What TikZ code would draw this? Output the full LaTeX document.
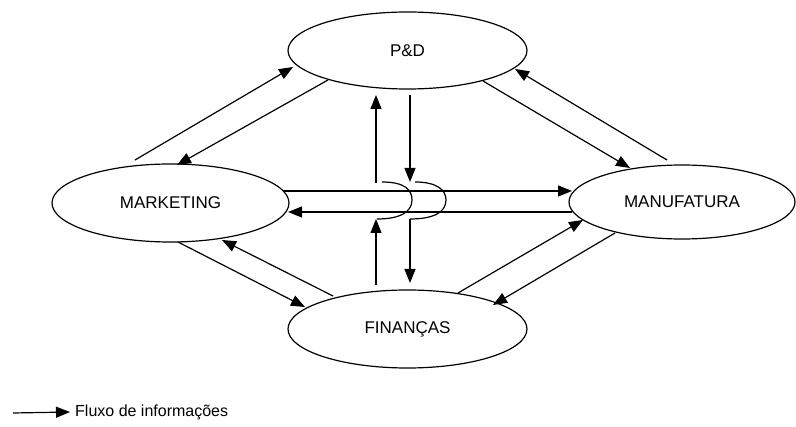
\documentclass[tikz,border=0pt]{standalone}
\usepackage{fontspec}
\setmainfont{Liberation Sans}
\usetikzlibrary{arrows.meta,shapes.geometric,calc}
\begin{document}
\begin{tikzpicture}[x=1pt,y=-1pt,
  dept/.style={draw, line width=1.2pt, ellipse, inner sep=0pt,
    font=\fontsize{17}{20}\selectfont},
  flow/.style={line width=1.2pt, -{Triangle[length=14pt,width=11pt]}},
  bridge/.style={line width=1.2pt}]
\useasboundingbox (0,0) rectangle (796,427);

% departments
\node[dept, minimum width=239pt, minimum height=77pt] (pd)  at (407.5,50.5) {P\&D};
\node[dept, minimum width=237pt, minimum height=78pt] (mkt) at (170.5,203)  {MARKETING};
\node[dept, minimum width=226pt, minimum height=74pt] (man) at (682,202)    {MANUFATURA};
\node[dept, minimum width=239pt, minimum height=78pt] (fin) at (407.5,329)  {FINANÇAS};

% diagonal flows
\draw[flow] ($(mkt.center)+(-35.5,-43)$) -- ($(pd.center)+(-114.5,16.5)$);
\draw[flow] ($(pd.center)+(-79.5,29.5)$) -- ($(mkt.center)+(6.5,-38)$);
\draw[flow] ($(pd.center)+(75.5,30.5)$)  -- ($(man.center)+(-52,-34)$);
\draw[flow] ($(man.center)+(-15,-42)$)   -- ($(pd.center)+(107.5,18.5)$);
\draw[flow] ($(mkt.center)+(7.5,39)$)    -- ($(fin.center)+(-102.5,-22)$);
\draw[flow] ($(fin.center)+(-74.5,-33)$) -- ($(mkt.center)+(51.5,37)$);
\draw[flow] ($(fin.center)+(50.5,-36)$)  -- ($(man.center)+(-99,18)$);
\draw[flow] ($(man.center)+(-67,31)$)    -- ($(fin.center)+(85.5,-24)$);

% horizontal flows
\draw[flow] ($(mkt.center)+(112.3,-12)$) -- ($(man.center)+(-110,-11)$);
\draw[flow] ($(man.center)+(-110,10)$)   -- ($(mkt.center)+(117.5,9)$);

% vertical flows with bridges over the horizontal lines
\coordinate (lb) at ($(fin.center)+(-31.5,-110)$);   % left bridge, lower end
\coordinate (lt) at ($(pd.center)+(-31.5,132.5)$);   % left bridge, upper end
\coordinate (rt) at ($(pd.center)+(2.5,131.5)$);     % right bridge, upper end
\coordinate (rb) at ($(fin.center)+(2.5,-110)$);     % right bridge, lower end

\draw[flow] ($(fin.center)+(-31.5,-44)$) -- (lb);
\draw[bridge] ($(lb)+(1,0)$) .. controls ($(lb)+(24,0)$) and ($(lb)+(36,-7)$)
  .. ($(lb)+(36,-19)$) .. controls ($(lb)+(36,-29)$) and ($(lb)+(29,-37)$) .. ($(lt)+(6,-1)$);
\draw[flow] (lt) -- ($(pd.center)+(-31.5,44.5)$);

\draw[flow] ($(pd.center)+(2.5,44.5)$) -- (rt);
\draw[bridge] ($(rt)+(5,0)$) .. controls ($(rt)+(27,0)$) and ($(rt)+(36,8)$)
  .. ($(rt)+(36,18)$) .. controls ($(rt)+(36,30)$) and ($(rt)+(24,37)$) .. (rb);
\draw[flow] (rb) -- ($(fin.center)+(2.5,-46)$);

% legend
\coordinate (l0) at (13,413);
\node[anchor=west, inner sep=0pt, font=\fontsize{16}{19}\selectfont] (leg) at (75,412) {Fluxo de informações};
\draw[flow] (l0) -- (leg.west -| 70,0);
\end{tikzpicture}
\end{document}
